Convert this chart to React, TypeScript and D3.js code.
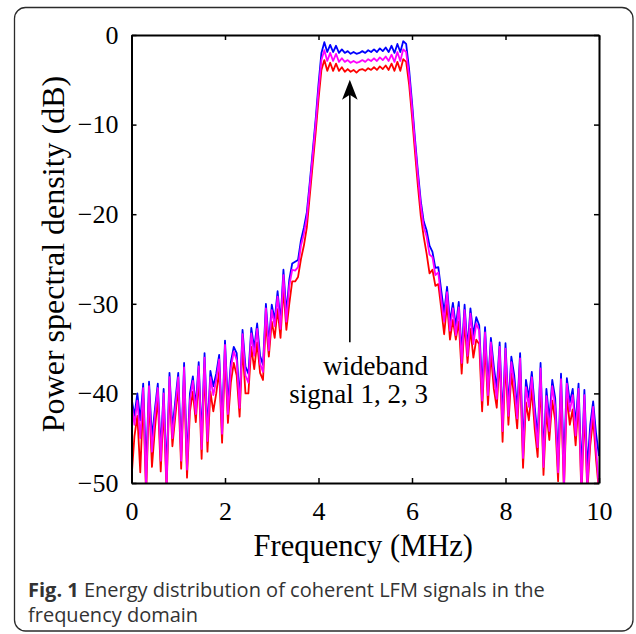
import { useEffect, useRef } from "react";
import * as d3 from "d3";

// spectrum samples every 0.0625 MHz from 0 to 10 MHz (161 points)
const freqStep = 0.0625;

const blueDb = [
  -40.5, -42.5, -40.0, -43.0, -38.9, -48.5, -38.7, -45.0, -41.8, -38.9,
  -46.5, -39.5, -49.0, -37.7, -44.0, -40.8, -37.7, -46.5, -36.6, -47.5,
  -40.0, -38.1, -41.5, -36.5, -45.0, -35.5, -44.3, -37.5, -39.2, -37.8,
  -35.7, -43.5, -34.1, -41.3, -36.5, -34.8, -35.5, -40.8, -32.9, -37.0,
  -37.8, -32.7, -35.0, -32.2, -35.8, -36.8, -30.0, -34.5, -30.1, -31.8,
  -28.6, -32.0, -26.2, -31.0, -27.3, -25.5, -25.3, -25.1, -22.9, -21.5,
  -19.8, -16.5, -13.0, -9.5, -5.5, -2.0, -0.8, -1.9, -1.1, -1.9,
  -1.2, -2.0, -1.6, -2.0, -1.8, -2.1, -1.9, -2.1, -2.0, -1.8,
  -2.0, -1.7, -1.9, -1.6, -1.9, -1.5, -1.8, -1.4, -1.9, -1.2,
  -2.0, -1.0, -1.9, -0.7, -1.0, -3.8, -7.5, -11.5, -15.2, -18.5,
  -20.8, -21.8, -23.5, -24.2, -26.0, -25.9, -28.5, -31.0, -28.1, -32.0,
  -29.9, -32.5, -29.8, -35.5, -30.1, -35.0, -30.5, -33.5, -31.5, -32.4,
  -39.5, -32.6, -39.2, -33.8, -37.0, -39.5, -34.3, -43.0, -34.4, -41.5,
  -35.9, -38.0, -41.8, -35.5, -46.0, -38.5, -40.5, -37.6, -41.5, -45.0,
  -36.6, -47.0, -39.5, -43.0, -38.5, -40.5, -47.5, -37.8, -48.0, -38.3,
  -41.0, -39.5, -43.5, -38.9, -49.0, -39.6, -48.5, -43.5, -40.9, -44.5,
  -47.0,
];

const magentaDb = [
  -41.0, -43.5, -40.8, -45.0, -39.4, -50.5, -39.2, -46.5, -42.5, -39.4,
  -47.5, -40.0, -50.5, -38.2, -45.0, -41.5, -38.2, -47.5, -37.1, -48.5,
  -40.8, -38.6, -42.3, -37.0, -46.2, -36.0, -45.3, -38.2, -40.2, -38.5,
  -36.2, -44.5, -34.6, -42.3, -37.2, -35.3, -36.3, -41.6, -33.4, -38.0,
  -38.8, -33.3, -35.8, -32.8, -36.7, -37.6, -30.5, -35.2, -30.7, -32.5,
  -29.2, -32.8, -26.8, -32.0, -28.0, -26.2, -26.3, -25.9, -23.5, -22.2,
  -20.4, -17.0, -13.5, -10.0, -6.2, -2.8, -1.7, -2.9, -2.0, -2.9,
  -2.1, -3.0, -2.6, -3.0, -2.8, -3.1, -2.9, -3.1, -3.0, -2.8,
  -3.0, -2.7, -2.9, -2.6, -2.9, -2.5, -2.8, -2.4, -2.9, -2.2,
  -3.0, -1.9, -2.9, -1.6, -1.9, -4.5, -8.1, -12.0, -15.7, -19.0,
  -21.4, -22.5, -24.5, -24.8, -26.8, -26.5, -29.5, -32.0, -28.7, -33.0,
  -30.5, -33.5, -30.4, -36.6, -30.7, -35.8, -31.1, -34.5, -32.2, -33.0,
  -40.8, -33.2, -40.2, -34.3, -38.0, -40.6, -34.8, -44.2, -35.0, -42.5,
  -36.5, -39.0, -42.8, -36.1, -47.2, -39.3, -41.5, -38.2, -42.5, -46.0,
  -37.2, -48.2, -40.3, -44.2, -39.2, -41.5, -48.8, -38.4, -50.5, -38.9,
  -42.0, -40.2, -44.7, -39.5, -51.0, -40.2, -50.5, -44.7, -41.5, -46.3,
  -50.5,
];

const redDb = [
  -49.5, -44.8, -42.5, -48.8, -40.5, -51.5, -40.3, -48.2, -44.0, -40.5,
  -48.7, -41.5, -51.0, -39.3, -45.9, -42.5, -39.3, -48.4, -38.3, -49.4,
  -42.0, -39.8, -43.2, -38.2, -47.3, -37.2, -46.5, -39.8, -42.0, -40.0,
  -37.5, -45.5, -35.8, -43.3, -38.8, -36.6, -38.0, -42.6, -34.8, -40.0,
  -40.0, -34.8, -37.3, -34.3, -37.7, -38.5, -32.0, -35.9, -32.0, -33.8,
  -30.6, -33.8, -28.3, -32.9, -30.0, -27.5, -27.5, -27.0, -25.0, -23.5,
  -21.5, -18.0, -14.5, -11.0, -7.2, -3.9, -2.8, -4.0, -3.1, -4.0,
  -3.2, -4.0, -3.6, -4.1, -3.8, -4.1, -3.9, -4.2, -3.9, -3.8,
  -4.0, -3.7, -3.9, -3.6, -3.9, -3.5, -3.8, -3.4, -3.9, -3.2,
  -4.0, -3.0, -4.0, -2.7, -3.0, -5.5, -9.1, -13.0, -16.8, -20.2,
  -22.5, -24.4, -26.6, -26.2, -28.0, -27.8, -30.5, -33.4, -30.0, -34.0,
  -31.8, -34.0, -32.0, -37.8, -32.0, -36.6, -32.8, -36.0, -34.0, -34.5,
  -42.0, -34.5, -41.3, -35.5, -39.5, -41.6, -36.0, -45.4, -36.3, -43.5,
  -37.8, -40.5, -43.9, -37.4, -48.3, -41.0, -43.0, -39.5, -44.0, -47.1,
  -38.5, -49.1, -42.0, -45.2, -40.8, -43.0, -49.8, -39.8, -51.0, -40.2,
  -43.5, -41.8, -45.8, -40.8, -51.5, -41.8, -51.0, -45.8, -42.8, -47.4,
  -51.0,
];

const xTicks = [0, 2, 4, 6, 8, 10];
const yTicks = [0, -10, -20, -30, -40, -50];

const xTitle = "Frequency (MHz)";
const yTitle = "Power spectral density (dB)";
const noteLines = ["wideband", "signal 1, 2, 3"];
const arrowAt = { f: 4.67, from: -34.3, to: -5.0 };

const captionBold = "Fig. 1";
const captionRest = " Energy distribution of coherent LFM signals in the";
const captionLine2 = "frequency domain";

const serif = "'Liberation Serif', 'Times New Roman', serif";

export default function App() {
  const ref = useRef<SVGSVGElement>(null);

  useEffect(() => {
    const svg = d3.select(ref.current);
    svg.selectAll("*").remove();

    const plot = { left: 131.5, right: 599, top: 35, bottom: 483 };
    const x = d3.scaleLinear().domain([0, 10]).range([plot.left, plot.right]);
    const y = d3.scaleLinear().domain([-50, 0]).range([plot.bottom, plot.top]);

    // figure frame
    svg.append("rect")
      .attr("x", 14.5).attr("y", 7.5)
      .attr("width", 618.5).attr("height", 623.5)
      .attr("rx", 11)
      .attr("fill", "none")
      .attr("stroke", "#2b2b2b")
      .attr("stroke-width", 1.3);

    svg.append("defs").append("clipPath")
      .attr("id", "plot-clip")
      .append("rect")
      .attr("x", plot.left).attr("y", plot.top)
      .attr("width", plot.right - plot.left)
      .attr("height", plot.bottom - plot.top);

    const line = d3.line<number>()
      .x((_, i) => x(i * freqStep))
      .y(d => y(d));

    const series = [
      { values: blueDb, color: "#0000ff" },
      { values: redDb, color: "#ff0000" },
      { values: magentaDb, color: "#ff00ff" },
    ];

    svg.append("g")
      .attr("clip-path", "url(#plot-clip)")
      .selectAll("path")
      .data(series)
      .join("path")
      .attr("d", d => line(d.values))
      .attr("fill", "none")
      .attr("stroke", d => d.color)
      .attr("stroke-width", 1.8)
      .attr("stroke-linejoin", "round");

    // axes, matlab style: inward ticks on every side
    const styleAxis = (g: any) => {
      g.select(".domain").attr("stroke", "#000").attr("stroke-width", 2);
      g.selectAll(".tick line").attr("stroke", "#000").attr("stroke-width", 1.5);
      g.selectAll("text")
        .attr("fill", "#000")
        .style("font-family", serif)
        .style("font-size", "26px");
    };

    svg.append("g")
      .attr("transform", `translate(0,${plot.bottom})`)
      .call(d3.axisBottom(x).tickValues(xTicks).tickSizeInner(-5).tickSizeOuter(0).tickPadding(19))
      .call(styleAxis);

    svg.append("g")
      .attr("transform", `translate(${plot.left},0)`)
      .call(d3.axisLeft(y).tickValues(yTicks).tickSizeInner(-5).tickSizeOuter(0).tickPadding(13))
      .call(styleAxis);

    svg.append("g")
      .attr("transform", `translate(0,${plot.top})`)
      .call(d3.axisTop(x).tickValues(xTicks).tickSizeInner(-5).tickSizeOuter(0).tickFormat(() => ""))
      .call(styleAxis);

    svg.append("g")
      .attr("transform", `translate(${plot.right},0)`)
      .call(d3.axisRight(y).tickValues(yTicks).tickSizeInner(-5).tickSizeOuter(0).tickFormat(() => ""))
      .call(styleAxis);

    svg.append("text")
      .attr("x", (plot.left + plot.right) / 2 - 2)
      .attr("y", 556)
      .attr("text-anchor", "middle")
      .style("font-family", serif)
      .style("font-size", "30.5px")
      .text(xTitle);

    svg.append("text")
      .attr("transform", `translate(64,254) rotate(-90)`)
      .attr("text-anchor", "middle")
      .style("font-family", serif)
      .style("font-size", "32px")
      .text(yTitle);

    // annotation arrow
    const ax = x(arrowAt.f);
    const tipY = y(arrowAt.to);
    svg.append("line")
      .attr("x1", ax).attr("x2", ax)
      .attr("y1", y(arrowAt.from)).attr("y2", tipY + 14)
      .attr("stroke", "#000")
      .attr("stroke-width", 1.6);
    svg.append("path")
      .attr("d", `M${ax},${tipY} L${ax + 7.8},${tipY + 20} L${ax},${tipY + 15} L${ax - 7.8},${tipY + 20} Z`)
      .attr("fill", "#000");

    svg.selectAll(".note")
      .data(noteLines)
      .join("text")
      .attr("class", "note")
      .attr("x", 428)
      .attr("y", (_, i) => 375 + i * 28)
      .attr("text-anchor", "end")
      .style("font-family", serif)
      .style("font-size", "27px")
      .text(d => d);

    // caption
    const cap = svg.append("text")
      .attr("x", 28).attr("y", 597)
      .attr("fill", "#333")
      .style("font-family", "'Open Sans', sans-serif")
      .style("font-size", "20px");
    cap.append("tspan").attr("font-weight", "bold").text(captionBold);
    cap.append("tspan").text(captionRest);

    svg.append("text")
      .attr("x", 28).attr("y", 622)
      .attr("fill", "#333")
      .style("font-family", "'Open Sans', sans-serif")
      .style("font-size", "20px")
      .text(captionLine2);
  }, []);

  return (
    <svg
      ref={ref}
      width={636}
      height={634}
      style={{ position: "absolute", left: 0, top: 0, background: "#fff" }}
    />
  );
}
